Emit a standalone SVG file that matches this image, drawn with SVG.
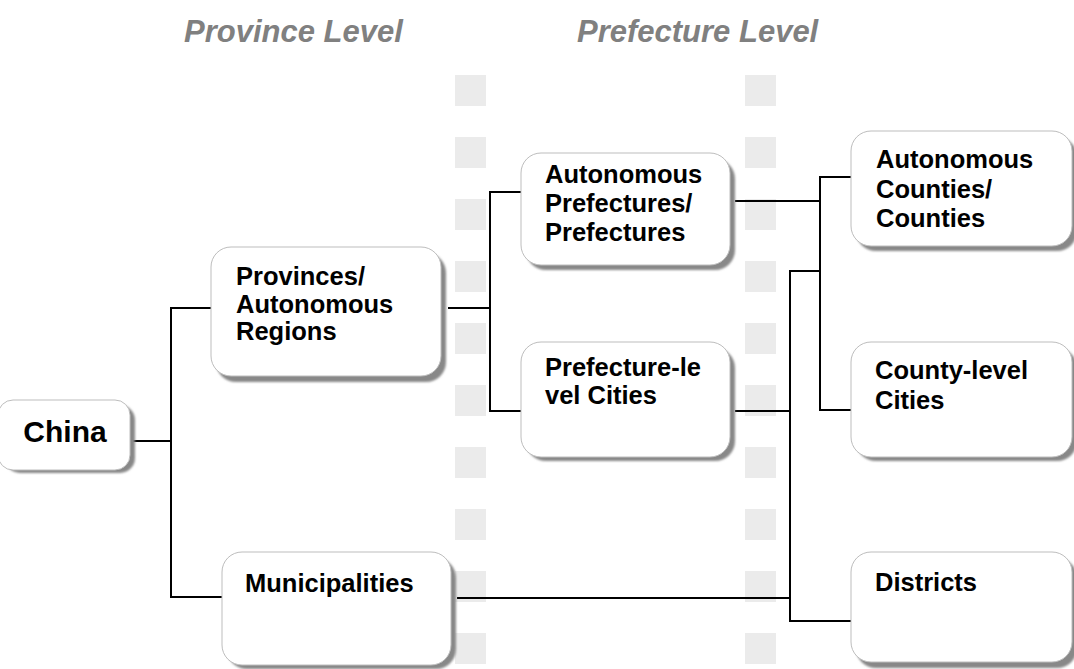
<svg xmlns="http://www.w3.org/2000/svg" width="1074" height="669" viewBox="0 0 1074 669">
<style>
.bg{fill:#ffffff}
.sq{fill:#ebebeb}
.hdr{font-family:"Liberation Sans",Arial,sans-serif;font-weight:bold;font-style:italic;font-size:31px;fill:#808080}
.box{fill:#ffffff;stroke:#bdbdbd;stroke-width:1}
.sh{fill:#888888}
.t{font-family:"Liberation Sans",Arial,sans-serif;font-weight:bold;font-size:25.5px;fill:#000000}
.big{font-size:30px}
.con path{fill:none;stroke:#000000;stroke-width:2}
</style>
<defs>
<filter id="blur" x="-10%" y="-10%" width="120%" height="120%"><feGaussianBlur stdDeviation="1"/></filter>
</defs>
<rect class="bg" x="0" y="0" width="1074" height="669"/>
<g id="headers">
<text class="hdr" x="184" y="42">Province Level</text>
<text class="hdr" x="577" y="42">Prefecture Level</text>
</g>
<g id="separators">
<rect class="sq" x="455" y="75" width="31" height="31"/>
<rect class="sq" x="455" y="137" width="31" height="31"/>
<rect class="sq" x="455" y="199" width="31" height="31"/>
<rect class="sq" x="455" y="261" width="31" height="31"/>
<rect class="sq" x="455" y="323" width="31" height="31"/>
<rect class="sq" x="455" y="385" width="31" height="31"/>
<rect class="sq" x="455" y="447" width="31" height="31"/>
<rect class="sq" x="455" y="509" width="31" height="31"/>
<rect class="sq" x="455" y="571" width="31" height="31"/>
<rect class="sq" x="455" y="633" width="31" height="31"/>
<rect class="sq" x="745" y="75" width="31" height="31"/>
<rect class="sq" x="745" y="137" width="31" height="31"/>
<rect class="sq" x="745" y="199" width="31" height="31"/>
<rect class="sq" x="745" y="261" width="31" height="31"/>
<rect class="sq" x="745" y="323" width="31" height="31"/>
<rect class="sq" x="745" y="385" width="31" height="31"/>
<rect class="sq" x="745" y="447" width="31" height="31"/>
<rect class="sq" x="745" y="509" width="31" height="31"/>
<rect class="sq" x="745" y="571" width="31" height="31"/>
<rect class="sq" x="745" y="633" width="31" height="31"/>
</g>
<g id="connectors" class="con">
<path d="M133,441 H171"/>
<path d="M211,308 H171 V597 H222"/>
<path d="M448,308 H490"/>
<path d="M521,192 H490 V411 H521"/>
<path d="M735,201 H820"/>
<path d="M851,177 H820 V410 H851"/>
<path d="M735,411 H790"/>
<path d="M820,271 H790 V621 H851"/>
<path d="M457,598 H790"/>
</g>
<g id="node-china">
<rect class="sh" filter="url(#blur)" x="5" y="405" width="130" height="68" rx="15"/>
<rect class="box" x="-2" y="400" width="132" height="70" rx="15" stroke="#e6e6e6"/>
<text class="t big" x="65" y="442" text-anchor="middle">China</text>
</g>
<g id="node-provinces">
<rect class="sh" filter="url(#blur)" x="216" y="253" width="230" height="129" rx="20"/>
<rect class="box" x="211" y="247" width="230" height="129" rx="20"/>
<text class="t" x="236" y="285">Provinces/</text>
<text class="t" x="236" y="312.5">Autonomous</text>
<text class="t" x="236" y="340">Regions</text>
</g>
<g id="node-municipalities">
<rect class="sh" filter="url(#blur)" x="227" y="558" width="229" height="111" rx="20"/>
<rect class="box" x="222" y="552" width="229" height="113" rx="20"/>
<text class="t" x="245" y="592">Municipalities</text>
</g>
<g id="node-autonomous-prefectures">
<rect class="sh" filter="url(#blur)" x="526" y="159" width="209" height="111" rx="20"/>
<rect class="box" x="521" y="153" width="209" height="112" rx="20"/>
<text class="t" x="545" y="183">Autonomous</text>
<text class="t" x="545" y="212">Prefectures/</text>
<text class="t" x="545" y="241">Prefectures</text>
</g>
<g id="node-prefecture-cities">
<rect class="sh" filter="url(#blur)" x="526" y="348" width="209" height="113" rx="20"/>
<rect class="box" x="521" y="342" width="209" height="115" rx="20"/>
<text class="t" x="545" y="376">Prefecture-le</text>
<text class="t" x="545" y="403.5">vel Cities</text>
</g>
<g id="node-autonomous-counties">
<rect class="sh" filter="url(#blur)" x="856" y="137" width="221" height="114" rx="20"/>
<rect class="box" x="851" y="131" width="221" height="115" rx="20"/>
<text class="t" x="876" y="168">Autonomous</text>
<text class="t" x="876" y="197.5">Counties/</text>
<text class="t" x="876" y="227">Counties</text>
</g>
<g id="node-county-cities">
<rect class="sh" filter="url(#blur)" x="856" y="348" width="221" height="113" rx="20"/>
<rect class="box" x="851" y="342" width="221" height="115" rx="20"/>
<text class="t" x="875" y="379">County-level</text>
<text class="t" x="875" y="409">Cities</text>
</g>
<g id="node-districts">
<rect class="sh" filter="url(#blur)" x="856" y="558" width="221" height="110" rx="20"/>
<rect class="box" x="851" y="552" width="221" height="110" rx="20"/>
<text class="t" x="875" y="591">Districts</text>
</g>
</svg>
